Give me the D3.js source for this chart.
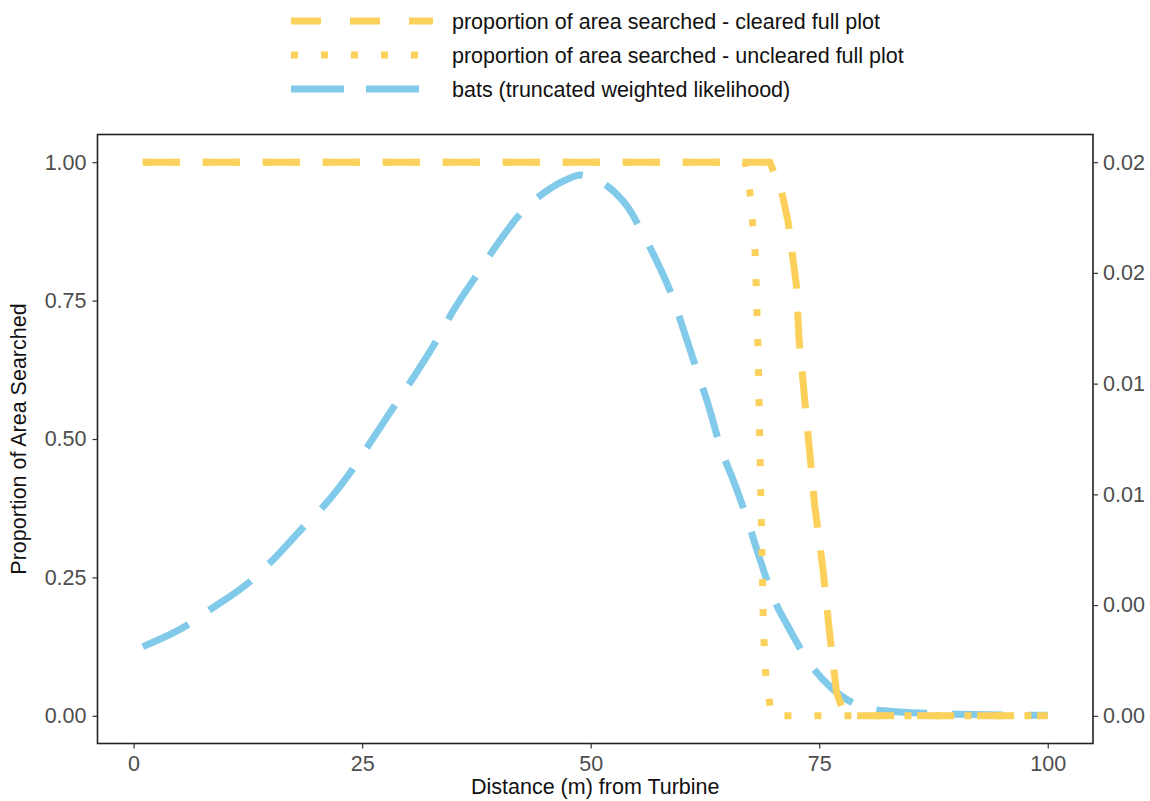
<!DOCTYPE html>
<html>
<head>
<meta charset="utf-8">
<script src="https://cdn.jsdelivr.net/npm/d3@7"></script>
<style>
  body { margin: 0; background: #fff; }
  svg { display: block; font-family: "Liberation Sans", Arial, sans-serif; }
</style>
</head>
<body>
<svg width="1150" height="801"></svg>
<script>
// values
var batsX = [1, 5.9, 8.3, 12.9, 14.9, 18.7, 20.7, 24.1, 25.7, 28.9, 30.4, 33.5, 34.8, 37.9, 39.5, 43.0, 45.0, 47.7, 48.8, 49.9, 52.4, 54.3, 55.6, 57.0, 59.2, 60.1, 61.9, 62.8, 64.4, 65.5, 67.4, 68.3, 70.1, 71.5, 74.3, 76.3, 81.0, 83.8, 90, 100];
var batsY = [0.125, 0.164, 0.191, 0.245, 0.276, 0.343, 0.377, 0.449, 0.489, 0.569, 0.606, 0.688, 0.727, 0.805, 0.845, 0.919, 0.946, 0.971, 0.977, 0.973, 0.949, 0.913, 0.874, 0.829, 0.745, 0.700, 0.610, 0.565, 0.475, 0.430, 0.341, 0.294, 0.209, 0.164, 0.087, 0.051, 0.011, 0.007, 0.003, 0.001];

var clearedX = [1, 69.6, 70.9, 71.6, 72.5, 72.8, 74.5, 75.4, 76.1, 76.9, 77.8, 100];
var clearedY = [1, 1, 0.946, 0.892, 0.778, 0.679, 0.381, 0.267, 0.155, 0.042, 0, 0];

var unclearedX = [1, 66.9, 67.4, 67.7, 68.0, 68.3, 68.5, 68.7, 68.9, 69.1, 69.4, 69.8, 100];
var unclearedY = [1, 1, 0.948, 0.892, 0.836, 0.666, 0.495, 0.327, 0.159, 0.083, 0.043, 0, 0];

var xTicks = [0, 25, 50, 75, 100];
var yTicks = [0, 0.25, 0.5, 0.75, 1];
var y2Ticks = [0, 0.004, 0.008, 0.012, 0.016, 0.02];

var legendLabels = ['proportion of area searched - cleared full plot',
  'proportion of area searched - uncleared full plot',
  'bats (truncated weighted likelihood)'];

var yellow = '#FCD15B', blue = '#82CAEA';

function main() {
  var svg = d3.select('svg');
  var left = 97.5, right = 1093, top = 134.5, bottom = 743.5;
  var fs = '21.5px';

  var x = d3.scaleLinear().domain([-3.95, 104.95]).range([left, right]);
  var y = d3.scaleLinear().domain([-0.05, 1.05]).range([bottom, top]);
  var y2 = d3.scaleLinear().domain([-0.001, 0.021]).range([bottom, top]);

  svg.append('clipPath').attr('id', 'panel')
    .append('rect').attr('x', left).attr('y', top)
    .attr('width', right - left).attr('height', bottom - top);

  var g = svg.append('g').attr('clip-path', 'url(#panel)');

  function series(xs, ys) {
    return xs.map(function(d, i) { return [d, ys[i]]; });
  }

  var smooth = d3.line()
    .x(function(d) { return x(d[0]); })
    .y(function(d) { return y(d[1]); })
    .curve(d3.curveMonotoneX);
  var straight = d3.line()
    .x(function(d) { return x(d[0]); })
    .y(function(d) { return y(d[1]); });

  // bats first so the yellow lines sit on top
  g.append('path')
    .attr('d', smooth(series(batsX, batsY)))
    .attr('fill', 'none').attr('stroke', blue).attr('stroke-width', 7)
    .attr('stroke-dasharray', '51,25');

  g.append('path')
    .attr('d', straight(series(unclearedX, unclearedY)))
    .attr('fill', 'none').attr('stroke', yellow).attr('stroke-width', 7)
    .attr('stroke-dasharray', '7,23');

  g.append('path')
    .attr('d', straight(series(clearedX, clearedY)))
    .attr('fill', 'none').attr('stroke', yellow).attr('stroke-width', 7)
    .attr('stroke-dasharray', '37,23');

  // panel border
  svg.append('rect')
    .attr('x', left).attr('y', top)
    .attr('width', right - left).attr('height', bottom - top)
    .attr('fill', 'none').attr('stroke', '#222').attr('stroke-width', 1.6);

  var tickColor = '#333', labelColor = '#4D4D4D';

  var xAxis = svg.append('g')
    .attr('transform', 'translate(0,' + bottom + ')')
    .call(d3.axisBottom(x).tickValues(xTicks).tickSize(5).tickPadding(7).tickFormat(d3.format('d')));
  var yAxis = svg.append('g')
    .attr('transform', 'translate(' + left + ',0)')
    .call(d3.axisLeft(y).tickValues(yTicks).tickSize(5).tickPadding(6).tickFormat(d3.format('.2f')));
  var y2Axis = svg.append('g')
    .attr('transform', 'translate(' + right + ',0)')
    .call(d3.axisRight(y2).tickValues(y2Ticks).tickSize(5).tickPadding(5).tickFormat(d3.format('.2f')));

  [xAxis, yAxis, y2Axis].forEach(function(a) {
    a.select('.domain').remove();
    a.selectAll('line').attr('stroke', tickColor).attr('stroke-width', 1.2);
    a.selectAll('text').attr('fill', labelColor).style('font-size', fs)
      .style('font-family', '"Liberation Sans", Arial, sans-serif');
  });

  svg.append('text')
    .attr('x', (left + right) / 2).attr('y', 794)
    .attr('text-anchor', 'middle')
    .style('font-size', fs).attr('fill', '#111')
    .text('Distance (m) from Turbine');

  svg.append('text')
    .attr('transform', 'translate(26,' + ((top + bottom) / 2) + ') rotate(-90)')
    .attr('text-anchor', 'middle')
    .style('font-size', fs).attr('fill', '#111')
    .text('Proportion of Area Searched');

  // legend
  var legendY = [21, 55, 89];
  var keyDash = ['30,29', '7,23', '53,22'];
  var keyColor = [yellow, yellow, blue];
  var leg = svg.append('g');
  legendLabels.forEach(function(lab, i) {
    leg.append('line')
      .attr('x1', 291).attr('x2', 433)
      .attr('y1', legendY[i]).attr('y2', legendY[i])
      .attr('stroke', keyColor[i]).attr('stroke-width', 7)
      .attr('stroke-dasharray', keyDash[i]);
    leg.append('text')
      .attr('x', 452).attr('y', legendY[i] + 8)
      .style('font-size', fs).attr('fill', '#111')
      .text(lab);
  });
}
main();
</script>
</body>
</html>
